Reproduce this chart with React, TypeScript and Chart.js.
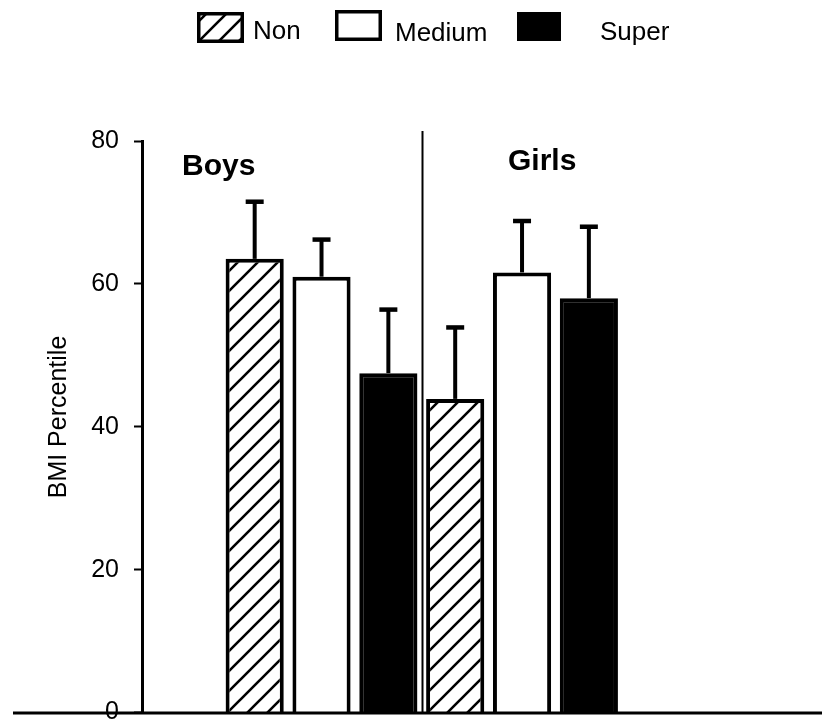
import React, { useEffect, useRef } from 'react';
import { Chart, registerables } from 'chart.js';

Chart.register(...registerables);

// ---- data ----
const groups = ['Boys', 'Girls'];
const groupPos = [1, 2];
const seriesNames = ['Non', 'Medium', 'Super'];
const nonMeans = [63.5, 43.9];
const mediumMeans = [61.0, 61.6];
const superMeans = [47.5, 58.0];
const nonErr = [8.0, 10.0];
const mediumErr = [5.2, 7.2];
const superErr = [8.9, 10.0];
const yTickValues = [0, 20, 40, 60, 80];
const yTitle = 'BMI Percentile';

const FONT = "'Liberation Sans', Arial, sans-serif";

function makeHatch(ctx: CanvasRenderingContext2D) {
  const s = 20;
  const c = document.createElement('canvas');
  c.width = s;
  c.height = s;
  const g = c.getContext('2d')!;
  g.fillStyle = '#fff';
  g.fillRect(0, 0, s, s);
  g.strokeStyle = '#000';
  g.lineWidth = 2.6;
  g.beginPath();
  g.moveTo(-3, s + 3);
  g.lineTo(s + 3, -3);
  g.moveTo(-3, 3);
  g.lineTo(3, -3);
  g.moveTo(s - 3, s + 3);
  g.lineTo(s + 3, s - 3);
  g.stroke();
  return ctx.createPattern(c, 'repeat')!;
}

export default function App() {
  const ref = useRef<HTMLCanvasElement | null>(null);

  useEffect(() => {
    const canvas = ref.current!;
    const ctx0 = canvas.getContext('2d')!;
    const hatch = makeHatch(ctx0);

    const fills = [hatch, '#ffffff', '#000000'];
    const means = [nonMeans, mediumMeans, superMeans];
    const errs = [nonErr, mediumErr, superErr];

    const datasets = seriesNames.map((name, si) => ({
      label: name,
      data: groupPos.map((x, gi) => ({ x, y: means[si][gi] })),
      errors: errs[si],
      backgroundColor: fills[si],
      borderColor: '#000',
      borderWidth: 4,
      borderSkipped: 'start',
      categoryPercentage: 1,
      barPercentage: 0.87,
    }));

    const errorBars = {
      id: 'errorBars',
      afterDatasetsDraw(chart: any) {
        const { ctx } = chart;
        const y = chart.scales.y;
        chart.data.datasets.forEach((ds: any, di: number) => {
          const meta = chart.getDatasetMeta(di);
          meta.data.forEach((bar: any, i: number) => {
            const top = y.getPixelForValue(ds.data[i].y + ds.errors[i]);
            ctx.save();
            ctx.strokeStyle = '#000';
            ctx.lineWidth = 4;
            ctx.beginPath();
            ctx.moveTo(bar.x, bar.y);
            ctx.lineTo(bar.x, top);
            ctx.stroke();
            ctx.lineWidth = 4.5;
            ctx.beginPath();
            ctx.moveTo(bar.x - 9, top);
            ctx.lineTo(bar.x + 9, top);
            ctx.stroke();
            ctx.restore();
          });
        });
      },
    };

    const decorations = {
      id: 'decorations',
      afterDraw(chart: any) {
        const { ctx, chartArea } = chart;
        const x = chart.scales.x;
        const y = chart.scales.y;
        ctx.save();
        // bottom axis line
        const y0 = y.getPixelForValue(0);
        ctx.strokeStyle = '#000';
        ctx.lineWidth = 3;
        ctx.beginPath();
        ctx.moveTo(13, y0 + 0.5);
        ctx.lineTo(chart.width, y0 + 0.5);
        ctx.stroke();
        // divider between groups
        const xd = Math.round(x.getPixelForValue(1.5)) + 0.5;
        ctx.lineWidth = 2;
        ctx.beginPath();
        ctx.moveTo(xd, chartArea.top - 10);
        ctx.lineTo(xd, y0);
        ctx.stroke();
        // group labels
        ctx.fillStyle = '#000';
        ctx.font = `bold 30px ${FONT}`;
        ctx.textBaseline = 'alphabetic';
        ctx.textAlign = 'left';
        ctx.fillText(groups[0], 182, 175);
        ctx.fillText(groups[1], 508, 170);
        // y title
        ctx.save();
        ctx.translate(66, 417);
        ctx.rotate(-Math.PI / 2);
        ctx.font = `25px ${FONT}`;
        ctx.textAlign = 'center';
        ctx.textBaseline = 'alphabetic';
        ctx.fillStyle = '#000';
        ctx.fillText(yTitle, 0, 0);
        ctx.restore();
        // legend
        const boxes = [
          { x: 197, y: 12, w: 47, h: 31, tx: 253, ty: 39 },
          { x: 335, y: 10, w: 47, h: 31, tx: 395, ty: 41 },
          { x: 517, y: 12, w: 44, h: 29, tx: 600, ty: 40 },
        ];
        boxes.forEach((b, i) => {
          ctx.fillStyle = fills[i];
          ctx.fillRect(b.x, b.y, b.w, b.h);
          ctx.strokeStyle = '#000';
          ctx.lineWidth = 3.5;
          ctx.strokeRect(b.x + 1.75, b.y + 1.75, b.w - 3.5, b.h - 3.5);
          ctx.fillStyle = '#000';
          ctx.font = `26px ${FONT}`;
          ctx.textAlign = 'left';
          ctx.textBaseline = 'alphabetic';
          ctx.fillText(seriesNames[i], b.tx, b.ty);
        });
        ctx.restore();
      },
    };

    const chart = new Chart(canvas, {
      type: 'bar',
      data: { datasets: datasets as any },
      options: {
        animation: false,
        responsive: true,
        maintainAspectRatio: false,
        layout: { padding: { top: 141, bottom: 9.5, left: 0, right: 0 } },
        plugins: {
          legend: { display: false },
          tooltip: { enabled: false },
        },
        scales: {
          x: {
            type: 'linear',
            offset: false,
            grid: { offset: false },
            min: 0.1047,
            max: 3.496,
            display: false,
            afterBuildTicks: (s: any) => {
              s.ticks = groupPos.map((v) => ({ value: v }));
            },
          },
          y: {
            min: 0,
            max: 80,
            afterBuildTicks: (s: any) => {
              s.ticks = yTickValues.map((v) => ({ value: v }));
            },
            afterFit: (s: any) => {
              s.width = 142;
              s.paddingTop = 0;
              s.paddingBottom = 0;
            },
            ticks: {
              color: '#000',
              padding: 15,
              font: { family: FONT, size: 25 },
            },
            grid: {
              display: true,
              drawOnChartArea: false,
              drawTicks: true,
              tickLength: 8,
              tickColor: '#000',
              tickWidth: 2,
            },
            border: { display: true, color: '#000', width: 3 },
          },
        },
      } as any,
      plugins: [errorBars, decorations],
    });

    return () => chart.destroy();
  }, []);

  return (
    <div style={{ position: 'fixed', left: 0, top: 0, width: 822, height: 722, background: '#fff' }}>
      <canvas ref={ref} />
    </div>
  );
}
